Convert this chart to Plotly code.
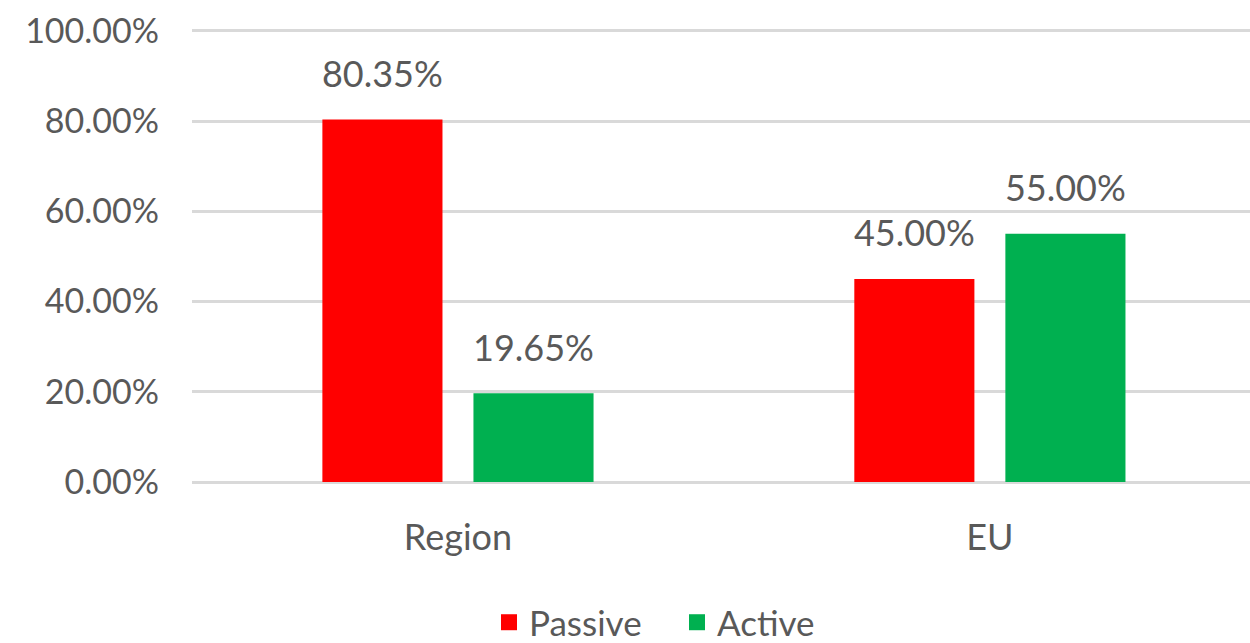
import plotly.graph_objects as go

categories = ["Region", "EU"]
passive = [80.35, 45.00]
active = [19.65, 55.00]
series_names = ["Passive", "Active"]
tick_vals = [0, 20, 40, 60, 80, 100]
tick_text = ["0.00%", "20.00%", "40.00%", "60.00%", "80.00%", "100.00%"]

FONT = "Lato"
GRAY = "#595959"
COLORS = ["#FF0000", "#00B050"]

fig = go.Figure()
for name, vals, color in zip(series_names, [passive, active], COLORS):
    fig.add_trace(go.Bar(
        x=categories, y=vals, name=name, marker=dict(color=color, line=dict(width=0)),
        showlegend=False,
    ))
# data labels, grouped to sit over their bars
for name, vals, color in zip(series_names, [passive, active], COLORS):
    fig.add_trace(go.Scatter(
        x=categories, y=vals, mode="markers+text", showlegend=False,
        offsetgroup=name, alignmentgroup="labels",
        marker=dict(size=36, opacity=0), hoverinfo="skip",
        text=[f"{v:.2f}%" for v in vals], textposition="top center",
        textfont=dict(family=FONT, size=36, color=GRAY), cliponaxis=False,
    ))
# legend entries with square symbols
for name, color in zip(series_names, COLORS):
    fig.add_trace(go.Scatter(
        x=[None], y=[None], mode="markers", name=name,
        offsetgroup=name, alignmentgroup="labels",
        marker=dict(symbol="square", size=20, color=color),
    ))

fig.update_layout(
    width=1250, height=643,
    margin=dict(l=192, r=0, t=29, b=161),
    paper_bgcolor="white", plot_bgcolor="white",
    barmode="group", bargap=0.432, bargroupgap=0.205,
    scattermode="group", scattergap=0.432,
    font=dict(family=FONT, size=34, color=GRAY),
    showlegend=True,
    legend=dict(orientation="h", xref="container", yref="container", x=0.5416, xanchor="center",
                y=0.0778, yanchor="top", font=dict(family=FONT, size=35, color=GRAY),
                itemwidth=30, tracegroupgap=0, entrywidth=143),
    xaxis=dict(range=[-0.5, 1.489], showgrid=False, showline=False, ticks="", automargin=False,
               tickfont=dict(family=FONT, size=36, color=GRAY), ticklabelstandoff=31),
    yaxis=dict(range=[0, 100.4], tickvals=tick_vals, ticktext=tick_text, showgrid=True,
               gridcolor="#D9D9D9", gridwidth=3, zeroline=True, zerolinecolor="#D9D9D9",
               zerolinewidth=3, showline=False, ticks="", ticklabelstandoff=32, automargin=False,
               tickfont=dict(family=FONT, size=34, color=GRAY)),
)

fig.write_html("out.html", config={"displayModeBar": False},
               post_script="document.body.style.margin='0';")
